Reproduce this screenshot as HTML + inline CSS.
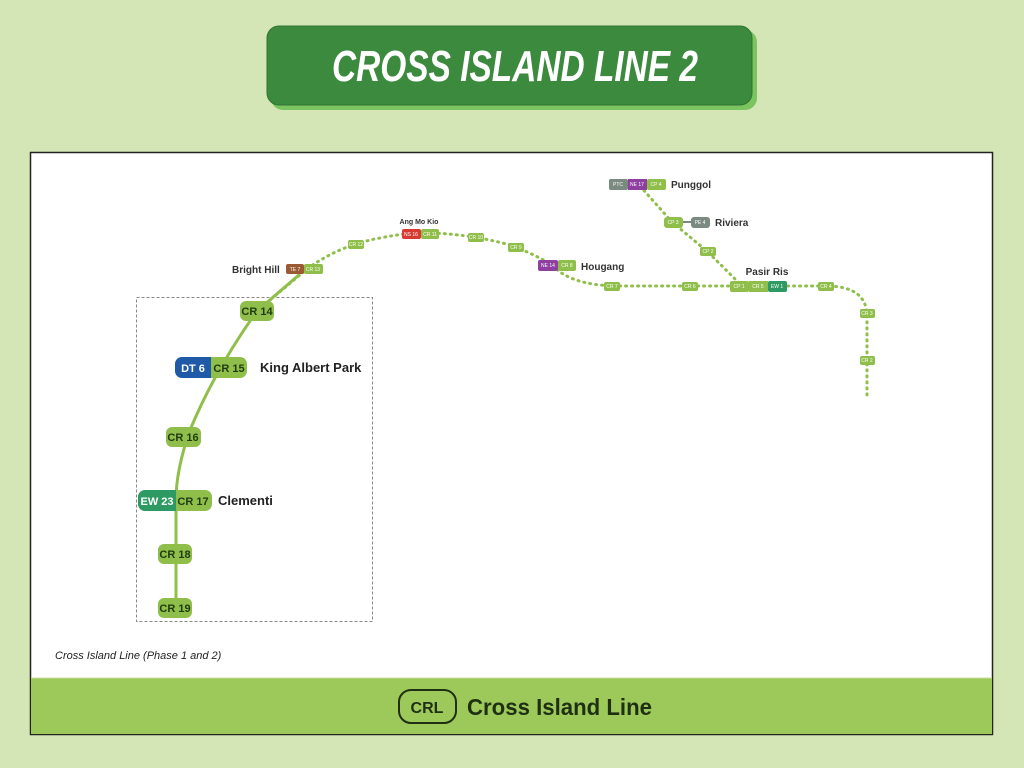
<!DOCTYPE html>
<html><head><meta charset="utf-8"><style>
html,body{margin:0;padding:0;width:1024px;height:768px;overflow:hidden;background:#d5e6b6;}
svg{display:block;font-family:"Liberation Sans",sans-serif;}
</style></head><body>
<svg width="1024" height="768" viewBox="0 0 1024 768" xmlns="http://www.w3.org/2000/svg">
<rect width="1024" height="768" fill="#d5e6b6"/>
<!-- title -->
<rect x="271" y="30" width="486" height="80" rx="12" fill="#7cc460"/>
<rect x="267" y="26" width="485" height="79" rx="12" fill="#3b8a3e" stroke="#2f7433" stroke-width="1"/>
<text x="332" y="81" font-size="44" font-weight="bold" font-style="italic" fill="#fff" textLength="366" lengthAdjust="spacingAndGlyphs">CROSS ISLAND LINE 2</text>
<!-- card -->
<rect x="30.5" y="152.5" width="962" height="582" fill="#fff" stroke="#222" stroke-width="1.5"/>
<rect x="31" y="678" width="961" height="56" fill="#9dc95a"/>
<line x1="31" y1="678" x2="992" y2="678" stroke="#c8df9c" stroke-width="1"/>
<rect x="399" y="690" width="57" height="33" rx="12" fill="none" stroke="#1f2f12" stroke-width="2"/>
<text x="427" y="713" text-anchor="middle" font-size="16" font-weight="bold" fill="#1f2f12">CRL</text>
<text x="467" y="715" font-size="23" font-weight="bold" fill="#1f2f12" textLength="185" lengthAdjust="spacingAndGlyphs">Cross Island Line</text>
<text x="55" y="659" font-size="11" font-style="italic" fill="#222">Cross Island Line (Phase 1 and 2)</text>
<!-- dashed box -->
<rect x="136.5" y="297.5" width="236" height="324" fill="none" stroke="#888" stroke-width="1" stroke-dasharray="3,2"/>
<!-- solid line -->
<path d="M300 274 L257 311 Q215 370 190 430 Q176 470 176 500 L176 608" fill="none" stroke="#8fbf4a" stroke-width="3"/>
<!-- dotted -->
<g fill="none" stroke="#8fbf4a" stroke-width="3" stroke-dasharray="1,5" stroke-linecap="round">
<path d="M257 311 L307 269 Q340 245 380 238 Q410 232 430 233 Q470 234 510 245 Q545 258 560 272 Q580 286 620 286 L826 286 Q866 286 867 315 L867 395"/>
<path d="M640 186 L672 222 L708 252 L742 286"/>
</g>
<!-- small badges -->
<g font-size="5" fill="#fff" text-anchor="middle">
<rect x="286" y="264" width="18" height="10" rx="2" fill="#9a5b34"/><text x="295" y="271">TE 7</text>
<rect x="304" y="264" width="19" height="10" rx="2" fill="#8fbf4a"/><text x="313" y="271">CR 13</text>
<rect x="348" y="240" width="16" height="9" rx="2" fill="#8fbf4a"/><text x="356" y="246">CR 12</text>
<rect x="402" y="229" width="19" height="10" rx="2" fill="#d83a32"/><text x="411" y="236">NS 16</text>
<rect x="421" y="229" width="18" height="10" rx="2" fill="#8fbf4a"/><text x="430" y="236">CR 11</text>
<rect x="468" y="233" width="16" height="9" rx="2" fill="#8fbf4a"/><text x="476" y="239">CR 10</text>
<rect x="508" y="243" width="16" height="9" rx="2" fill="#8fbf4a"/><text x="516" y="249">CR 9</text>
<rect x="538" y="260" width="20" height="11" rx="2" fill="#8e3fa0"/><text x="548" y="267">NE 14</text>
<rect x="558" y="260" width="18" height="11" rx="2" fill="#8fbf4a"/><text x="567" y="267">CR 8</text>
<rect x="604" y="282" width="16" height="9" rx="2" fill="#8fbf4a"/><text x="612" y="288">CR 7</text>
<rect x="682" y="282" width="16" height="9" rx="2" fill="#8fbf4a"/><text x="690" y="288">CR 6</text>
<rect x="730" y="281" width="19" height="11" rx="2" fill="#8fbf4a"/><text x="739" y="288">CP 1</text>
<rect x="749" y="281" width="19" height="11" fill="#8fbf4a"/><text x="758" y="288">CR 5</text>
<rect x="768" y="281" width="19" height="11" rx="2" fill="#2e9a63"/><text x="777" y="288">EW 1</text>
<rect x="818" y="282" width="16" height="9" rx="2" fill="#8fbf4a"/><text x="826" y="288">CR 4</text>
<rect x="860" y="309" width="15" height="9" rx="2" fill="#8fbf4a"/><text x="867" y="315">CR 3</text>
<rect x="860" y="356" width="15" height="9" rx="2" fill="#8fbf4a"/><text x="867" y="362">CR 2</text>
<rect x="609" y="179" width="19" height="11" rx="2" fill="#7a8a80"/><text x="618" y="186">PTC</text>
<rect x="628" y="179" width="19" height="11" fill="#8e3fa0"/><text x="637" y="186">NE 17</text>
<rect x="647" y="179" width="19" height="11" rx="2" fill="#8fbf4a"/><text x="656" y="186">CP 4</text>
<rect x="664" y="217" width="19" height="11" rx="3" fill="#8fbf4a"/><text x="673" y="224">CP 3</text>
<line x1="683" y1="222" x2="691" y2="222" stroke="#7a8a80" stroke-width="2"/>
<rect x="691" y="217" width="19" height="11" rx="3" fill="#7a8a80"/><text x="700" y="224">PE 4</text>
<rect x="700" y="247" width="16" height="9" rx="2" fill="#8fbf4a"/><text x="708" y="253">CP 2</text>
</g>
<g font-weight="bold" fill="#333">
<text x="232" y="273" font-size="10">Bright Hill</text>
<text x="419" y="224" font-size="7" text-anchor="middle">Ang Mo Kio</text>
<text x="581" y="270" font-size="10">Hougang</text>
<text x="671" y="188" font-size="10">Punggol</text>
<text x="715" y="226" font-size="10">Riviera</text>
<text x="767" y="275" font-size="10" text-anchor="middle">Pasir Ris</text>
</g>
<!-- big badges -->
<g font-size="11" font-weight="bold" text-anchor="middle">
<rect x="240" y="301" width="34" height="20" rx="6" fill="#8fbf4a"/><text x="257" y="315" fill="#1f3a10">CR 14</text>
<rect x="175" y="357" width="36" height="21" rx="7" fill="#1e5aa8"/><rect x="203" y="357" width="8" height="21" fill="#1e5aa8"/><text x="193" y="372" fill="#fff">DT 6</text>
<rect x="211" y="357" width="36" height="21" rx="7" fill="#8fbf4a"/><rect x="211" y="357" width="8" height="21" fill="#8fbf4a"/><text x="229" y="372" fill="#1f3a10">CR 15</text>
<rect x="166" y="427" width="35" height="20" rx="6" fill="#8fbf4a"/><text x="183" y="441" fill="#1f3a10">CR 16</text>
<rect x="138" y="490" width="38" height="21" rx="7" fill="#2e9a63"/><rect x="168" y="490" width="8" height="21" fill="#2e9a63"/><text x="157" y="505" fill="#fff">EW 23</text>
<rect x="176" y="490" width="36" height="21" rx="7" fill="#8fbf4a"/><rect x="176" y="490" width="8" height="21" fill="#8fbf4a"/><text x="193" y="505" fill="#1f3a10">CR 17</text>
<rect x="158" y="544" width="34" height="20" rx="6" fill="#8fbf4a"/><text x="175" y="558" fill="#1f3a10">CR 18</text>
<rect x="158" y="598" width="34" height="20" rx="6" fill="#8fbf4a"/><text x="175" y="612" fill="#1f3a10">CR 19</text>
</g>
<g font-size="13" font-weight="bold" fill="#222">
<text x="260" y="372">King Albert Park</text>
<text x="218" y="505">Clementi</text>
</g>
</svg>
</body></html>
